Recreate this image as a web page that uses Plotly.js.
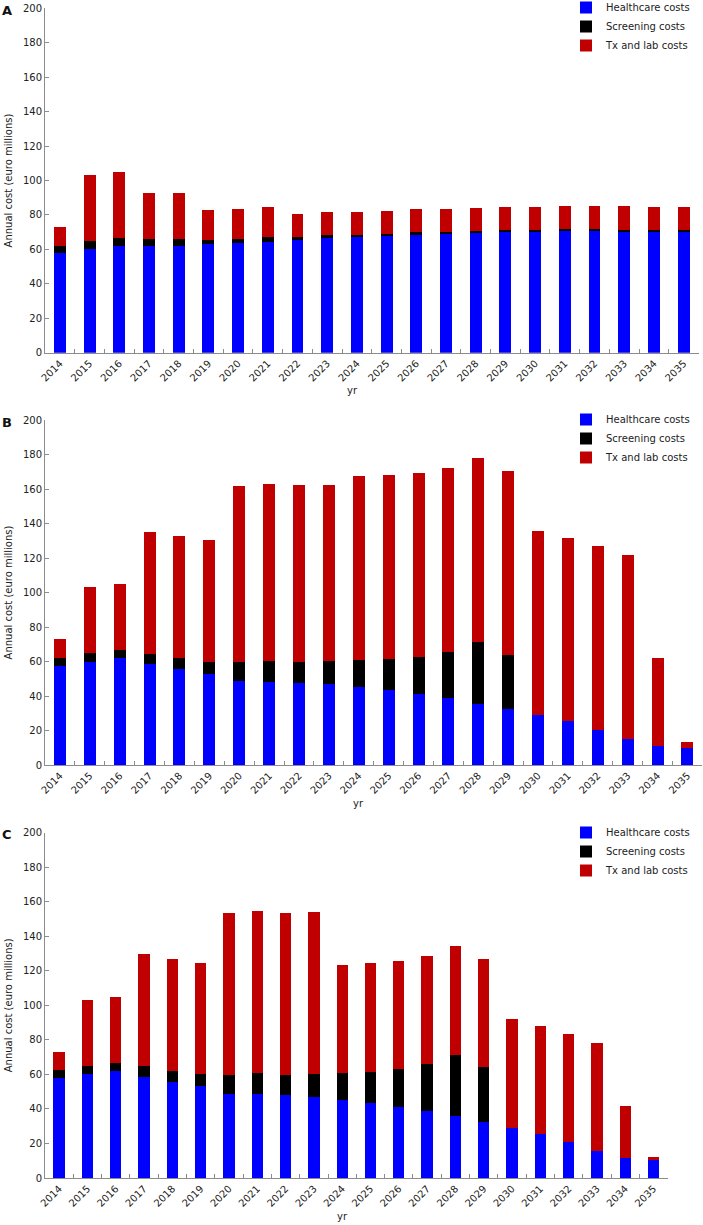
<!DOCTYPE html>
<html>
<head>
<meta charset="utf-8">
<script src="https://cdn.plot.ly/plotly-3.0.1.min.js"></script>
<style>html,body{margin:0;padding:0;background:#fff}#chart{width:703px;height:1225px}</style>
</head>
<body>
<div id="chart"></div>
<script>
// Categories
const years = ['2014','2015','2016','2017','2018','2019','2020','2021','2022','2023','2024',
               '2025','2026','2027','2028','2029','2030','2031','2032','2033','2034','2035'];

// Panel A (euro millions)
const healthcareA = [58.0,60.4,62.1,62.1,62.1,63.3,63.9,64.5,65.6,66.6,67.2,68.0,68.5,69.1,69.7,70.1,70.3,70.5,70.5,70.3,70.1,69.9];
const screeningA  = [4.1,4.6,4.7,3.7,4.1,2.1,2.3,2.5,1.6,1.6,1.1,1.1,1.4,1.2,1.2,1.1,1.1,1.1,1.1,1.1,1.1,1.2];
const txlabA      = [10.9,38.4,38.3,26.7,26.5,17.5,17.4,17.4,13.5,13.3,13.6,13.4,13.4,13.3,13.1,13.4,13.4,13.4,13.4,13.6,13.4,13.3];

// Panel B
const healthcareB = [57.4,59.9,61.8,58.4,55.5,52.8,48.7,48.3,47.7,46.8,45.2,43.5,41.2,38.6,35.6,32.5,29.0,25.3,20.3,15.3,11.2,10.0];
const screeningB  = [4.4,4.8,4.9,5.9,6.3,6.9,10.8,12.0,12.0,13.3,15.5,17.9,21.6,26.9,35.7,31.3,0,0,0,0,0,0];
const txlabB      = [11.1,38.3,38.2,70.8,70.8,70.7,102.2,102.4,102.4,102.4,106.6,106.7,106.7,106.7,106.7,106.6,106.5,106.5,106.7,106.4,51.0,3.3];

// Panel C
const healthcareC = [58.1,60.2,62.0,58.5,55.8,53.3,48.8,48.6,47.9,46.9,45.4,43.6,41.3,38.8,36.1,32.6,29.2,25.7,20.8,15.4,11.4,10.2];
const screeningC  = [4.3,4.7,4.8,6.2,6.4,6.7,10.9,12.0,11.9,13.5,15.4,18.0,21.8,27.0,35.3,31.5,0,0,0,0,0,0];
const txlabC      = [10.6,38.2,38.2,64.8,64.6,64.7,93.8,93.8,93.9,93.8,62.8,62.7,62.6,62.8,62.8,62.5,62.7,62.3,62.6,62.6,30.1,2.0];

const seriesNames = ['Healthcare costs','Screening costs','Tx and lab costs'];
const seriesColors = ['#0000ff','#000000','#c00000'];
const panelLabels = ['A','B','C'];
const yTitle = 'Annual cost (euro millions)';
const xTitle = 'yr';

const W = 703, H = 1225;
const FONT = 'DejaVu Sans, Verdana, sans-serif';

const panels = [
  {data:[healthcareA,screeningA,txlabA], x0:45, x1:698.5, yTop:8.3,  yBot:352.7, legTop:-7},
  {data:[healthcareB,screeningB,txlabB], x0:45, x1:702.4, yTop:420,  yBot:765,   legTop:405},
  {data:[healthcareC,screeningC,txlabC], x0:45, x1:667.7, yTop:832.7,yBot:1178,  legTop:818}
];
const yrX = [352, 358, 342];

const traces = [];
const layout = {
  width: W, height: H,
  margin: {l:0, r:0, t:0, b:0, autoexpand: false},
  paper_bgcolor: '#fff', plot_bgcolor: '#fff',
  barmode: 'stack', bargap: 0.6,
  font: {family: FONT, size: 10, color: '#222'},
  annotations: [],
  showlegend: true
};

panels.forEach((p, i) => {
  const n = i === 0 ? '' : String(i + 1);
  const legName = 'legend' + n;
  p.data.forEach((vals, k) => {
    traces.push({
      type: 'bar', x: years, y: vals, name: seriesNames[k],
      marker: {color: seriesColors[k], line: {width: 0}},
      xaxis: 'x' + n, yaxis: 'y' + n, legend: legName,
      hoverinfo: 'x+y+name'
    });
  });
  layout['xaxis' + n] = {
    domain: [p.x0 / W, p.x1 / W], anchor: 'y' + n,
    type: 'category', range: [-0.5, 21.5], tickangle: -45,
    showline: true, linecolor: '#8c8c8c', linewidth: 1,
    ticks: 'inside', ticklen: 4, tickcolor: '#8c8c8c', tickson: 'boundaries',
    showgrid: false, zeroline: false, fixedrange: true,
    tickfont: {family: FONT, size: 10, color: '#222'}
  };
  layout['yaxis' + n] = {
    domain: [1 - p.yBot / H, 1 - p.yTop / H], anchor: 'x' + n,
    range: [0, 200], dtick: 20, tick0: 0,
    showline: true, linecolor: '#8c8c8c', linewidth: 1,
    ticks: 'inside', ticklen: 4, tickcolor: '#8c8c8c',
    showgrid: false, zeroline: false, fixedrange: true,
    tickfont: {family: FONT, size: 10, color: '#222'},
    title: {text: yTitle, font: {family: FONT, size: 10, color: '#222'}, standoff: 8}
  };
  layout[legName] = {
    x: 566 / W, xanchor: 'left', y: 1 - p.legTop / H, yanchor: 'top',
    bgcolor: 'rgba(0,0,0,0)', borderwidth: 0,
    font: {family: FONT, size: 10, color: '#222'},
    traceorder: 'normal', itemclick: false, itemdoubleclick: false
  };
  layout.annotations.push({
    text: '<b>' + panelLabels[i] + '</b>', xref: 'paper', yref: 'paper',
    x: 0, xanchor: 'left', y: 1 - (p.yTop + 2) / H, yanchor: 'middle',
    showarrow: false, font: {family: FONT, size: 13, color: '#111'}
  });
  layout.annotations.push({
    text: xTitle, xref: 'paper', yref: 'paper',
    x: yrX[i] / W, xanchor: 'center', y: 1 - (p.yBot + 38) / H, yanchor: 'middle',
    showarrow: false, font: {family: FONT, size: 10, color: '#222'}
  });
});

Plotly.newPlot('chart', traces, layout, {staticPlot: false, displayModeBar: false});
</script>
</body>
</html>
